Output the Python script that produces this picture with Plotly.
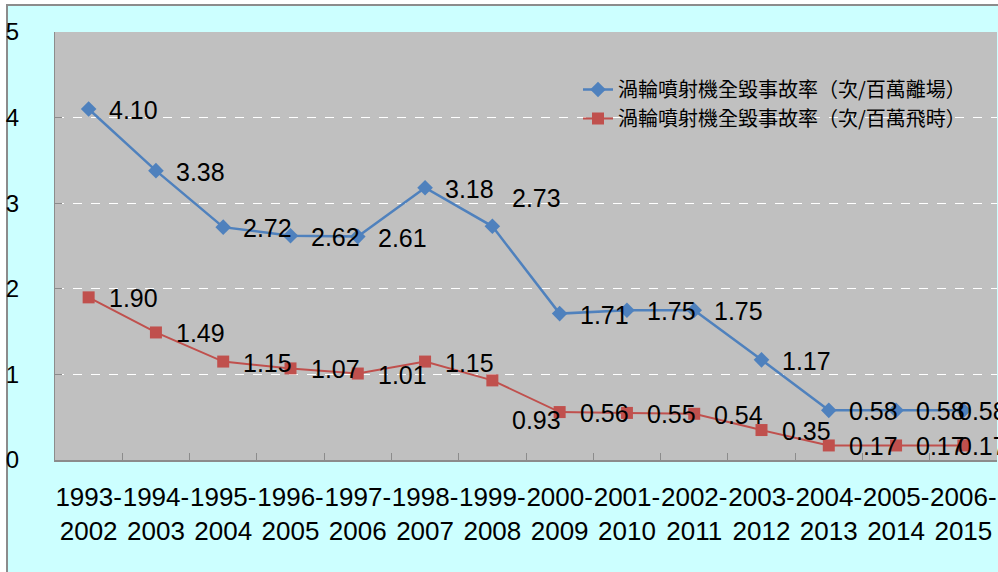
import plotly.graph_objects as go

categories = ["1993-<br>2002", "1994-<br>2003", "1995-<br>2004", "1996-<br>2005", "1997-<br>2006",
              "1998-<br>2007", "1999-<br>2008", "2000-<br>2009", "2001-<br>2010", "2002-<br>2011",
              "2003-<br>2012", "2004-<br>2013", "2005-<br>2014", "2006-<br>2015"]
departures_rate = [4.10, 3.38, 2.72, 2.62, 2.61, 3.18, 2.73, 1.71, 1.75, 1.75, 1.17, 0.58, 0.58, 0.58]
flight_hours_rate = [1.90, 1.49, 1.15, 1.07, 1.01, 1.15, 0.93, 0.56, 0.55, 0.54, 0.35, 0.17, 0.17, 0.17]
name_departures = "渦輪噴射機全毀事故率（次/百萬離場）"
name_hours = "渦輪噴射機全毀事故率（次/百萬飛時）"
y_ticks = [0, 1, 2, 3, 4, 5]
grid_values = [1, 2, 3, 4]

BLUE = "#4F81BD"
RED = "#C0504D"
FONT = "Arial, Liberation Sans, sans-serif"

fig = go.Figure()
fig.add_trace(go.Scatter(
    x=categories, y=departures_rate, name=name_departures, mode="lines+markers",
    line=dict(color=BLUE, width=2.5),
    marker=dict(symbol="diamond", size=12, color=BLUE),
))
fig.add_trace(go.Scatter(
    x=categories, y=flight_hours_rate, name=name_hours, mode="lines+markers",
    line=dict(color=RED, width=2),
    marker=dict(symbol="square", size=12, color=RED),
))

# data-label pixel offsets (style only)
n = len(categories)
blue_dx = [18] * n
blue_dy = [-1] * n
blue_dy[6] = 28
blue_dx[13] = -7
red_dx = [18] * n
red_dy = [-1] * n
red_dy[6] = -40
red_dx[13] = -7

annotations = []
for vals, dxs, dys in ((departures_rate, blue_dx, blue_dy), (flight_hours_rate, red_dx, red_dy)):
    for i, v in enumerate(vals):
        annotations.append(dict(
            x=categories[i], y=v, xref="x", yref="y", text=f"{v:.2f}",
            showarrow=False, xanchor="left", yanchor="middle",
            xshift=dxs[i], yshift=dys[i],
            font=dict(family=FONT, size=25, color="#000000"),
        ))

L, R, T, B = 55, 1, 32, 112
W, H = 998, 572
pw, ph = W - L - R, H - T - B

shapes = [
    # cyan chart area with gray frame
    dict(type="rect", xref="paper", yref="paper", layer="below",
         x0=(7 - L) / pw, x1=1.2, y0=-0.6, y1=(H - B - 5) / ph,
         fillcolor="#CCFFFF", line=dict(color="#8C8C8C", width=2)),
    # gray plot area
    dict(type="rect", xref="paper", yref="paper", layer="below",
         x0=0, x1=1, y0=0, y1=1, fillcolor="#C0C0C0", line=dict(width=0)),
]

fig.update_layout(
    width=W, height=H,
    margin=dict(l=L, r=R, t=T, b=B, pad=0, autoexpand=False),
    paper_bgcolor="#FFFFFF",
    plot_bgcolor="rgba(0,0,0,0)",
    shapes=shapes,
    annotations=annotations,
    showlegend=True,
    legend=dict(
        x=(578 - L) / pw, y=(H - B - 70) / ph, xanchor="left", yanchor="top",
        bgcolor="rgba(0,0,0,0)", borderwidth=0,
        font=dict(family="Noto Sans CJK TC", size=20, color="#000000"),
        tracegroupgap=0,
    ),
    font=dict(family=FONT, color="#000000"),
)

fig.update_xaxes(
    type="category", range=[-0.5, len(categories) - 0.5],
    tickangle=0, showgrid=False, automargin=False,
    showline=True, linecolor="#8C8C8C", linewidth=2,
    ticks="inside", tickson="boundaries", ticklen=7, tickcolor="#8C8C8C",
    tickfont=dict(family=FONT, size=26, color="#000000"),
    ticklabelstandoff=13,
)
fig.update_yaxes(
    range=[0, 5], tickvals=y_ticks, showgrid=False, zeroline=False, automargin=False,
    showline=True, linecolor="#8C8C8C", linewidth=1,
    ticks="inside", ticklen=7, tickcolor="#8C8C8C",
    tickfont=dict(family=FONT, size=24, color="#000000"),
    ticklabelstandoff=30,
    minor=dict(tickvals=grid_values, showgrid=True, gridcolor="#FFFFFF",
               griddash="dash", gridwidth=1, ticks=""),
)

fig.write_html(
    "out.html",
    config={"displayModeBar": False},
    post_script="document.body.style.margin='0';document.body.style.overflow='hidden';",
)
